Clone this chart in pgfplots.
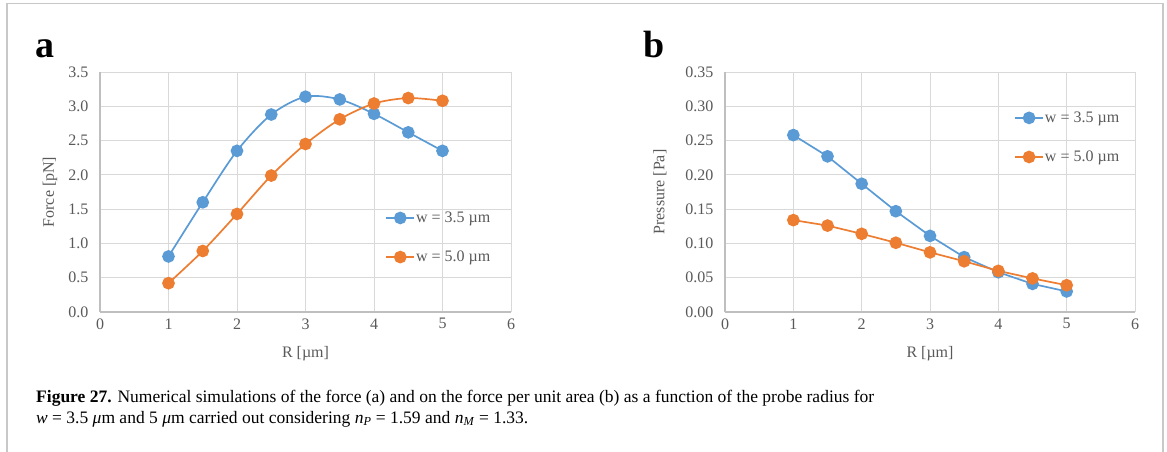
\documentclass[border=0pt]{standalone}
\usepackage{pgfplots}
\pgfplotsset{compat=1.18}
\usepackage{fontspec}
\setmainfont{Liberation Serif}
\definecolor{xblue}{HTML}{5B9BD5}
\definecolor{xorange}{HTML}{ED7D31}
\definecolor{tickgrey}{HTML}{595959}
\definecolor{gridgrey}{HTML}{D9D9D9}
\definecolor{axisgrey}{HTML}{BFBFBF}
\definecolor{framegrey}{HTML}{C8C8C8}

\pgfplotsset{
  panel/.style={
    scale only axis, width=411bp, height=240bp,
    xmin=0, xmax=6, xtick={0,...,6},
    axis x line*=bottom, axis y line*=left,
    axis line style={axisgrey, line width=1.2bp},
    grid=major, major grid style={gridgrey, line width=1bp},
    major tick length=0pt,
    tick label style={font=\fontsize{16bp}{17bp}\selectfont, text=tickgrey},
    label style={font=\fontsize{16bp}{17bp}\selectfont, text=tickgrey},
    /pgf/number format/assume math mode=true,
    xticklabel style={yshift=-3bp},
    yticklabel style={xshift=-8bp},
    xlabel={R [µm]},
    xlabel style={at={(rel axis cs:0.5,0)}, anchor=center, yshift=-42bp},
    legend style={draw=none, fill=none, font=\fontsize{16bp}{17bp}\selectfont,
      text=tickgrey, row sep=25bp, anchor=north west, inner sep=0pt,
      nodes={inner sep=1bp}},
    legend cell align=left,
    legend image code/.code={\draw[mark repeat=2, mark phase=2]
      plot coordinates {(0bp,0bp) (14bp,0bp) (28bp,0bp)};},
    every axis plot/.append style={line width=1.7bp, mark=*, mark size=5.5bp},
  },
}

\begin{document}
\begin{tikzpicture}[x=1bp, y=1bp]
\useasboundingbox (0,0) rectangle (1167,-452);
\draw[framegrey, line width=1.6bp] (7,-452) -- (7,-3.5) -- (1163,-3.5) -- (1163,-452);

\node[anchor=base west, inner sep=0pt, font=\fontsize{38bp}{38bp}\selectfont\bfseries] at (35bp,-58bp) {a};
\node[anchor=base west, inner sep=0pt, font=\fontsize{38bp}{38bp}\selectfont\bfseries] at (643bp,-58bp) {b};

% panel a
\begin{axis}[panel, at={(100bp,-312bp)}, anchor=south west,
  ymin=0, ymax=3.5, ytick={0,0.5,...,3.5},
  yticklabel style={/pgf/number format/.cd, fixed, fixed zerofill, precision=1},
  ylabel={Force [pN]},
  ylabel style={at={(rel axis cs:0,0.5)}, anchor=center, yshift=50bp},
  legend style={at={(rel axis cs:0.694,0.422)}},
]
\addplot[xblue, smooth, mark options={fill=xblue}] coordinates {
(1,0.81) (1.5,1.60) (2,2.35) (2.5,2.88) (3,3.14) (3.5,3.10) (4,2.89) (4.5,2.62) (5,2.35)};
\addlegendentry{w = 3.5 µm}
\addplot[xorange, smooth, mark options={fill=xorange}] coordinates {
(1,0.42) (1.5,0.89) (2,1.43) (2.5,1.99) (3,2.45) (3.5,2.81) (4,3.04) (4.5,3.12) (5,3.08)};
\addlegendentry{w = 5.0 µm}
\end{axis}

% panel b
\begin{axis}[panel, at={(725bp,-312bp)}, anchor=south west, width=410bp,
  ymin=0, ymax=0.35, ytick={0,0.05,...,0.36},
  yticklabel style={/pgf/number format/.cd, fixed, fixed zerofill, precision=2},
  ylabel={Pressure [Pa]},
  ylabel style={at={(rel axis cs:0,0.5)}, anchor=center, yshift=65bp},
  legend style={at={(rel axis cs:0.705,0.839)}},
]
\addplot[xblue, mark options={fill=xblue}] coordinates {
(1,0.258) (1.5,0.227) (2,0.187) (2.5,0.147) (3,0.111) (3.5,0.080) (4,0.058) (4.5,0.041) (5,0.030)};
\addlegendentry{w = 3.5 µm}
\addplot[xorange, mark options={fill=xorange}] coordinates {
(1,0.134) (1.5,0.126) (2,0.114) (2.5,0.101) (3,0.087) (3.5,0.074) (4,0.060) (4.5,0.049) (5,0.039)};
\addlegendentry{w = 5.0 µm}
\end{axis}

\node[anchor=base west, inner sep=0pt, font=\fontsize{17.5bp}{19bp}\selectfont] at (36bp,-402bp)
  {\textbf{Figure 27.} Numerical simulations of the force (a) and on the force per unit area (b) as a function of the probe radius for};
\node[anchor=base west, inner sep=0pt, font=\fontsize{17.5bp}{19bp}\selectfont] at (36bp,-423bp)
  {\textit{w} = 3.5 \textit{μ}m and 5 \textit{μ}m carried out considering \textit{n}\textsubscript{\textit{P}} = 1.59 and \textit{n}\textsubscript{\textit{M}} = 1.33.};
\end{tikzpicture}
\end{document}
